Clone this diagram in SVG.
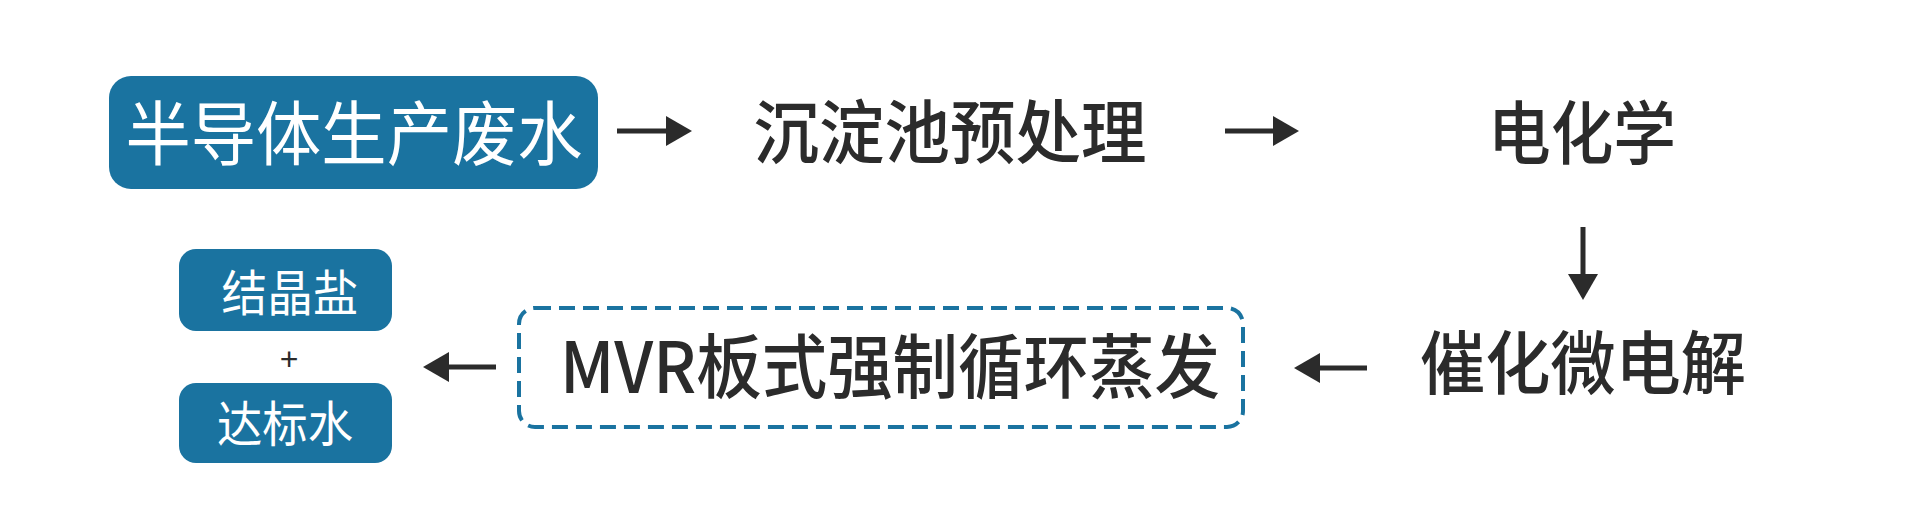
<svg xmlns="http://www.w3.org/2000/svg" width="1920" height="526" viewBox="0 0 1920 526">
<defs>
<style>
.box{fill:#1a73a0;}
.dash{fill:none;stroke:#1a73a0;stroke-width:4;stroke-dasharray:16 8;}
.t{font-family:"Noto Sans CJK SC","Noto Sans",sans-serif;fill:#2b2b2b;text-anchor:middle;font-weight:500;}
.w{font-family:"Noto Sans CJK SC","Noto Sans",sans-serif;fill:#ffffff;text-anchor:middle;}
.ln{stroke:#2b2b2b;stroke-width:5;fill:none;}
</style>
<marker id="ah" markerUnits="userSpaceOnUse" markerWidth="27" markerHeight="31" refX="1" refY="15" orient="auto" viewBox="0 0 27 31">
<path d="M0,0 L26,15 L0,30 Z" fill="#2b2b2b"/>
</marker>
</defs>
<rect width="1920" height="526" fill="#ffffff"/>
<g id="n1">
<rect class="box" x="109" y="76" width="489" height="113" rx="22"/>
<text class="w" x="354" y="160" font-size="70" textLength="457" lengthAdjust="spacingAndGlyphs">半导体生产废水</text>
</g>
<g id="n2">
<text class="t" x="950" y="158" font-size="69" textLength="393" lengthAdjust="spacingAndGlyphs">沉淀池预处理</text>
</g>
<g id="n3">
<text class="t" x="1582" y="159" font-size="69" textLength="188" lengthAdjust="spacingAndGlyphs">电化学</text>
</g>
<g id="n4">
<text class="t" x="1583" y="389" font-size="69" textLength="326" lengthAdjust="spacingAndGlyphs">催化微电解</text>
</g>
<g id="n5">
<rect class="dash" x="519" y="308" width="724" height="119" rx="16"/>
<text class="t" x="890" y="393" font-size="70" textLength="660" lengthAdjust="spacingAndGlyphs">MVR板式强制循环蒸发</text>
</g>
<g id="n6">
<rect class="box" x="179" y="249" width="213" height="82" rx="17"/>
<text class="w" x="290" y="311" font-size="49" textLength="137" lengthAdjust="spacingAndGlyphs">结晶盐</text>
</g>
<g id="plus">
<text x="289" y="370" font-size="32" font-family="Liberation Sans, sans-serif" fill="#2b2b2b" text-anchor="middle">+</text>
</g>
<g id="n7">
<rect class="box" x="179" y="383" width="213" height="80" rx="17"/>
<text class="w" x="285" y="442" font-size="49" textLength="136" lengthAdjust="spacingAndGlyphs">达标水</text>
</g>
<g id="connectors">
<line class="ln" x1="617" y1="131" x2="667" y2="131" marker-end="url(#ah)"/>
<line class="ln" x1="1225" y1="131" x2="1274" y2="131" marker-end="url(#ah)"/>
<line class="ln" x1="1583" y1="227" x2="1583" y2="275" marker-end="url(#ah)"/>
<line class="ln" x1="1367" y1="368" x2="1319" y2="368" marker-end="url(#ah)"/>
<line class="ln" x1="496" y1="367" x2="448" y2="367" marker-end="url(#ah)"/>
</g>
</svg>
